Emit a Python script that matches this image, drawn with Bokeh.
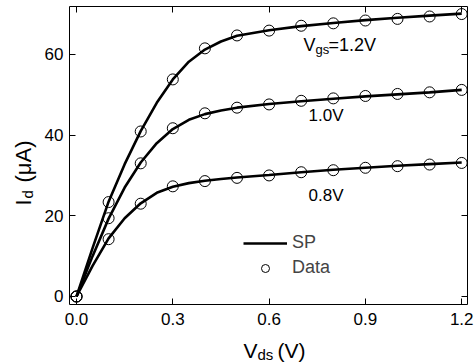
from bokeh.plotting import figure
from bokeh.models import Range1d, LinearAxis, Label, Legend, LegendItem, FixedTicker
from bokeh.embed import file_html
from bokeh.resources import INLINE
import math

# Measured data points
vds_data = [0.0, 0.1, 0.2, 0.3, 0.4, 0.5, 0.6, 0.7, 0.8, 0.9, 1.0, 1.1, 1.2]
id_12_data = [0.0, 23.4, 40.9, 53.8, 61.5, 64.7, 65.9, 67.1, 67.7, 68.4, 68.8, 69.4, 70.0]
id_10_data = [0.0, 19.4, 33.0, 41.7, 45.4, 46.8, 47.6, 48.5, 49.1, 49.7, 50.2, 50.6, 51.2]
id_08_data = [0.0, 14.2, 23.0, 27.3, 28.6, 29.4, 30.0, 30.8, 31.3, 31.9, 32.3, 32.7, 33.1]

# SP model curves
vds_sp = [0.0, 0.05, 0.1, 0.15, 0.2, 0.25, 0.3, 0.35, 0.4, 0.45, 0.5, 0.6, 0.7, 0.8, 0.9, 1.0, 1.1, 1.2]
id_12_sp = [0.0, 12.0, 23.5, 32.8, 41.0, 48.0, 53.8, 58.2, 61.2, 63.2, 64.6, 66.0, 67.0, 67.8, 68.5, 69.1, 69.6, 70.1]
id_10_sp = [0.0, 10.0, 19.3, 27.0, 33.2, 38.0, 41.5, 43.8, 45.2, 46.1, 46.8, 47.7, 48.4, 49.0, 49.6, 50.1, 50.6, 51.2]
id_08_sp = [0.0, 7.6, 14.4, 19.4, 23.1, 25.7, 27.2, 28.1, 28.7, 29.1, 29.5, 30.1, 30.8, 31.4, 31.9, 32.4, 32.8, 33.2]

x_ticks = [0.0, 0.3, 0.6, 0.9, 1.2]
y_ticks = [0, 20, 40, 60]

# plot box (data limits of the framed area)
X0, X1 = -0.022, 1.218
Y0, Y1 = -2.1, 71.9

FONT = "Liberation Sans"

# The frame spans the whole canvas; the visible box is drawn by fixed-location axes
p = figure(width=475, height=362, output_backend="svg", toolbar_location=None,
           x_range=Range1d(-0.2368, 1.2430), y_range=Range1d(-16.36, 73.36),
           x_axis_location=None, y_axis_location=None,
           min_border=0, min_border_left=0, min_border_right=0,
           min_border_top=0, min_border_bottom=0)
p.grid.visible = False
p.outline_line_color = None
p.background_fill_color = "white"
p.border_fill_color = "white"

def make_axis(ticks, loc, bounds, labels=True):
    ax = LinearAxis(ticker=FixedTicker(ticks=ticks), fixed_location=loc, bounds=bounds,
                    major_tick_in=6, major_tick_out=0, minor_tick_line_color=None,
                    axis_line_color="black", axis_line_width=1,
                    major_tick_line_color="black",
                    major_label_text_font=FONT, major_label_text_font_size="17px",
                    major_label_text_color="black")
    if not labels:
        ax.major_label_overrides = {t: "" for t in ticks}
        ax.major_label_text_font_size = "1px"
    return ax

bottom = make_axis(x_ticks, Y0, (X0, X1))
bottom.major_label_overrides = {0.0: "0.0", 0.3: "0.3", 0.6: "0.6", 0.9: "0.9", 1.2: "1.2"}
bottom.major_label_standoff = 8
left = make_axis(y_ticks, X0, (Y0, Y1))
left.major_label_standoff = 6
top = make_axis(x_ticks, Y1, (X0, X1), labels=False)
right = make_axis(y_ticks, X1, (Y0, Y1), labels=False)
p.add_layout(bottom, "below")
p.add_layout(left, "left")
p.add_layout(top, "above")
p.add_layout(right, "right")

lw = 2.6
r_sp = p.line(vds_sp, id_12_sp, line_color="black", line_width=lw)
p.line(vds_sp, id_10_sp, line_color="black", line_width=lw)
p.line(vds_sp, id_08_sp, line_color="black", line_width=lw)

for ys in (id_12_data, id_10_data, id_08_data):
    p.scatter(vds_data, ys, marker="circle", size=11, fill_color=None,
              line_color="black", line_width=1)

# legend proxy for the data marker (placed outside the visible range)
r_leg_circ = p.scatter([-10], [-100], marker="circle", size=9, fill_color=None,
                       line_color="black", line_width=1)

legend = Legend(items=[LegendItem(label="SP", renderers=[r_sp]),
                       LegendItem(label="Data", renderers=[r_leg_circ])],
                location=(243, 84), orientation="vertical",
                glyph_width=44, glyph_height=20, label_height=20, spacing=4,
                padding=0, margin=0, border_line_color=None,
                background_fill_alpha=0, label_text_font=FONT,
                label_text_font_size="18px", label_standoff=5)
p.add_layout(legend)

def lab(text, x, y, size, xo=0, yo=0, units="data", angle=0.0):
    l = Label(x=x, y=y, x_units=units, y_units=units, text=text, x_offset=xo, y_offset=yo,
              text_font=FONT, text_font_size=size, text_color="black",
              text_baseline="alphabetic", text_align="left", angle=angle)
    p.add_layout(l)

# curve annotations
lab("V", 0.707, 61.0, "18px", yo=5)
lab("gs", 0.707, 61.0, "13px", xo=12, yo=1)
lab("=1.2V", 0.707, 61.0, "18px", xo=25, yo=5)
lab("1.0V", 0.723, 43.4, "17px", yo=6)
lab("0.8V", 0.723, 23.5, "17px", yo=6)

# axis titles (screen units: origin at the canvas' bottom-left)
lab("V", 243, 12, "21px", units="screen")
lab("ds", 257, 12, "15px", yo=-4, units="screen")
lab("(V)", 277, 12, "21px", units="screen")

ang = math.pi / 2
lab("I", 23, 157, "22px", units="screen", angle=ang)
lab("d", 23, 164, "15px", xo=4, units="screen", angle=ang)
lab("(μA)", 23, 180, "22px", units="screen", angle=ang)

open("out.html", "w").write(file_html(p, INLINE))
